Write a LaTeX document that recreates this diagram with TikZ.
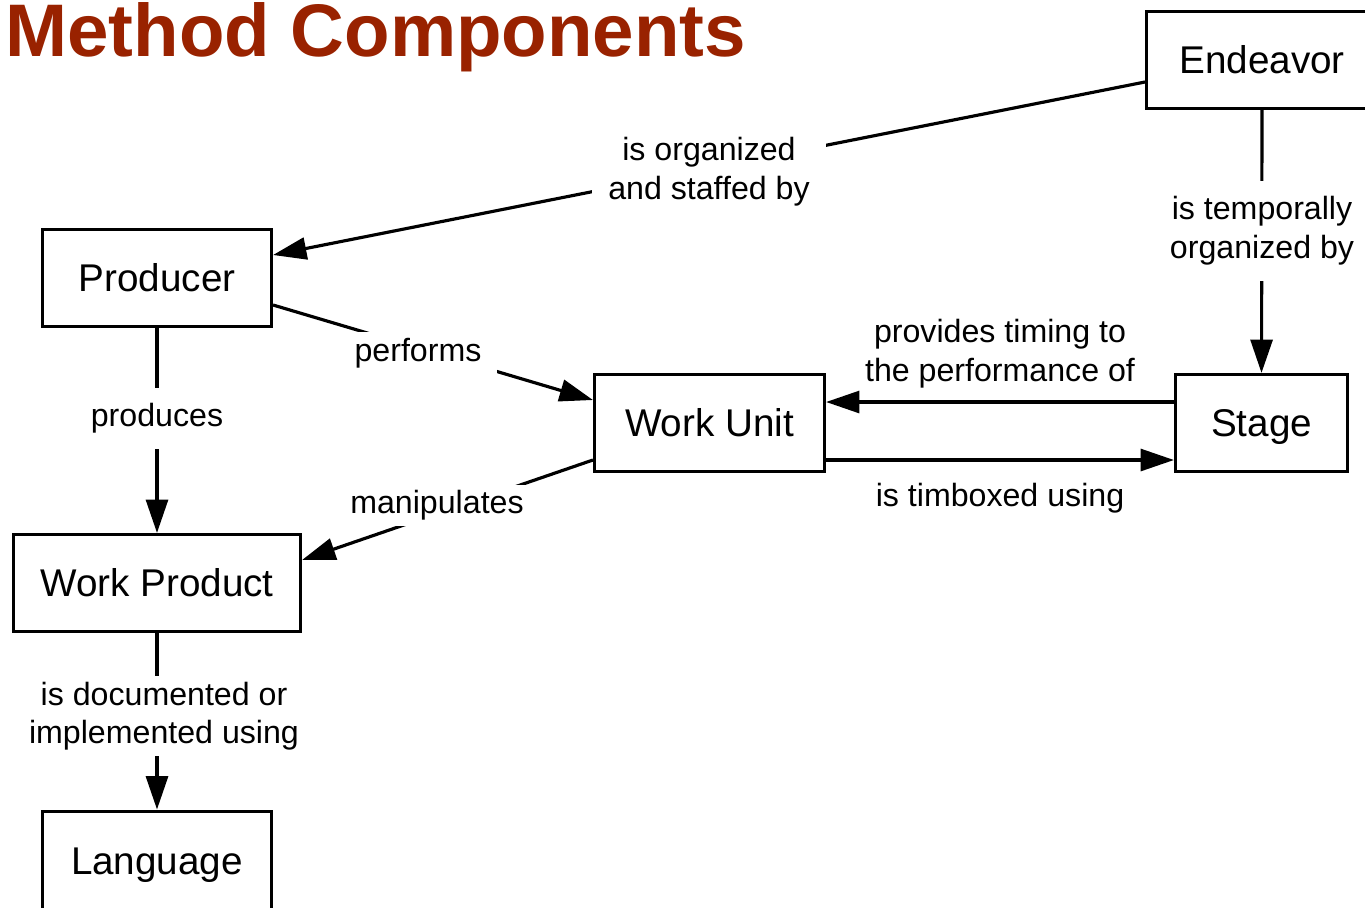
\documentclass[tikz,border=0pt]{standalone}
\usepackage{fontspec}
\setmainfont{Liberation Sans}
\usetikzlibrary{arrows.meta}
\definecolor{titlered}{RGB}{153,34,0}
\begin{document}
\begin{tikzpicture}[x=0.02cm,y=-0.02cm,
  box/.style={draw,line width=1.8pt,minimum height=1.94cm,font=\fontsize{22}{26}\selectfont,text height=15.75pt,text depth=0pt,inner sep=0pt},
  lbl/.style={fill=white,align=center,font=\fontsize{18.3}{22}\selectfont,inner sep=4pt},
  conn/.style={line width=1.8pt,-{Triangle[length=19pt,width=12.5pt]}}]
\useasboundingbox (0,0) rectangle (1365,907);
\node[anchor=base west,text=titlered,font=\fontsize{42.4}{50}\selectfont\bfseries,inner sep=0pt,text height=31pt,text depth=0pt] (title) at (5,56) {Method Components};
\node[box,minimum width=4.62cm] (end) at (1262,60) {Endeavor};
\node[box,minimum width=4.58cm] (prod) at (157,278) {Producer};
\node[box,minimum width=4.6cm] (wu) at (709.5,423) {Work Unit};
\node[box,minimum width=3.44cm] (st) at (1261.5,423) {Stage};
\node[box,minimum width=5.74cm] (wp) at (157,583) {Work Product};
\node[box,minimum width=4.58cm,minimum height=2.3cm,anchor=north,text depth=9pt] (lang) at (157,809.5) {Language};
% connectors
\draw[conn] (end.west |- 0,82) -- (prod.east |- 0,255);
\draw[conn] (end.south) -- (st.north);
\draw[conn] (prod.east |- 0,305) -- (wu.west |- 0,400);
\draw[conn] (wu.west |- 0,460) -- (wp.east |- 0,560);
\draw[conn] (st.west |- 0,402) -- (wu.east |- 0,402);
\draw[conn] (wu.east |- 0,460) -- (st.west |- 0,460);
\draw[conn] (prod.south) -- (wp.north);
\draw[conn] (wp.south) -- (lang.north);
% labels
\node[lbl,inner xsep=9pt,inner ysep=6pt] (l1) at (709,172) {is organized\\and staffed by};
\node[lbl,inner ysep=9pt] (l2) at (1262,231) {is temporally\\organized by};
\node[lbl,inner xsep=9pt] (l3) at (418,353.5) {performs};
\node[lbl,inner xsep=9pt,inner ysep=3pt] (l4) at (437,505.5) {manipulates};
\node[lbl,fill=none] (l5) at (1000,353.5) {provides timing to\\the performance of};
\node[lbl,fill=none] (l6) at (1000,498.5) {is timboxed using};
\node[lbl,inner ysep=9pt] (l7) at (157,418.5) {produces};
\node[lbl,inner ysep=3pt] (l8) at (164,716) {is documented or\\implemented using};
\end{tikzpicture}
\end{document}
